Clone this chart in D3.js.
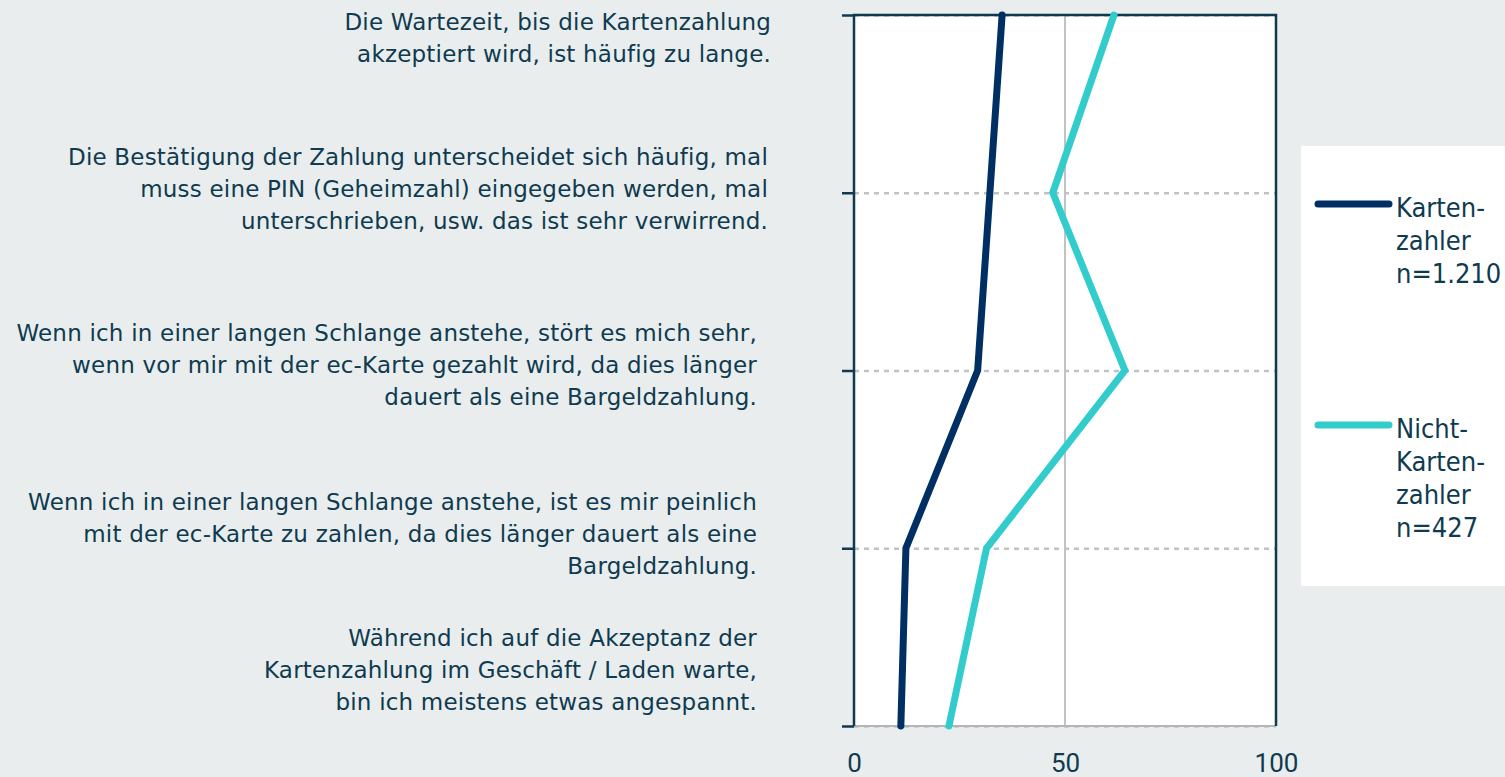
<!DOCTYPE html>
<html>
<head>
<meta charset="utf-8">
<script src="https://cdn.jsdelivr.net/npm/d3@7"></script>
<style>
  html, body { margin: 0; padding: 0; background: #e9eded; }
  svg { display: block; }
  .lbl { font-family: "DejaVu Sans", sans-serif; fill: #0f3b50; }
  .leg { font-family: "DejaVu Sans Condensed", "DejaVu Sans", sans-serif; font-stretch: condensed; fill: #0f3b50; }
</style>
</head>
<body>
<div id="container"></div>
<script>
// statements (one entry per row, already wrapped as in the picture)
var categories = [
  ["Die Wartezeit, bis die Kartenzahlung", "akzeptiert wird, ist häufig zu lange."],
  ["Die Bestätigung der Zahlung unterscheidet sich häufig, mal", "muss eine PIN (Geheimzahl) eingegeben werden, mal", "unterschrieben, usw. das ist sehr verwirrend."],
  ["Wenn ich in einer langen Schlange anstehe, stört es mich sehr,", "wenn vor mir mit der ec-Karte gezahlt wird, da dies länger", "dauert als eine Bargeldzahlung."],
  ["Wenn ich in einer langen Schlange anstehe, ist es mir peinlich", "mit der ec-Karte zu zahlen, da dies länger dauert als eine", "Bargeldzahlung."],
  ["Während ich auf die Akzeptanz der", "Kartenzahlung im Geschäft / Laden warte,", "bin ich meistens etwas angespannt."]
];
var kartenzahler = [35.1, 32.2, 29.3, 12.3, 11.1];
var nichtKartenzahler = [61.6, 47.1, 64.2, 31.4, 22.5];
var xTicks = [0, 50, 100];
var seriesNames = [["Karten-", "zahler", "n=1.210"], ["Nicht-", "Karten-", "zahler", "n=427"]];
var seriesColors = ["#003063", "#33cccc"];

var width = 1505, height = 777;
var plot = {left: 854, right: 1276, top: 15, bottom: 726};
var axisColor = "#0f3b50";

var svg = d3.select("div#container")
  .append("svg")
  .attr("width", width)
  .attr("height", height);

var x = d3.scaleLinear().domain([0, 100]).range([plot.left, plot.right]);
var y = d3.scalePoint().domain(d3.range(categories.length)).range([plot.top, plot.bottom]);

// plot background
svg.append("rect")
  .attr("x", plot.left).attr("y", plot.top)
  .attr("width", plot.right - plot.left).attr("height", plot.bottom - plot.top)
  .style("fill", "white");

// dashed row lines
svg.selectAll("line.row")
  .data(d3.range(categories.length))
  .enter().append("line")
  .attr("class", "row")
  .attr("x1", plot.left).attr("x2", plot.right)
  .attr("y1", function(d) { return y(d) + 0.5; })
  .attr("y2", function(d) { return y(d) + 0.5; })
  .style("stroke", "#c2c2c2").style("stroke-width", 2.5)
  .style("stroke-dasharray", "5,5");

// vertical grid at 50
svg.append("line")
  .attr("x1", x(50)).attr("x2", x(50))
  .attr("y1", plot.top).attr("y2", plot.bottom)
  .style("stroke", "#c2c2c2").style("stroke-width", 2);

// bottom baseline (grey)
svg.append("line")
  .attr("x1", plot.left).attr("x2", plot.right)
  .attr("y1", plot.bottom).attr("y2", plot.bottom)
  .style("stroke", "#b5b5b5").style("stroke-width", 2);

// frame: left axis, top, right
svg.append("path")
  .attr("d", "M" + plot.left + "," + plot.bottom + "V" + plot.top + "H" + plot.right + "V" + plot.bottom)
  .style("fill", "none").style("stroke", axisColor).style("stroke-width", 2.5);

// left axis ticks
var yAxis = d3.axisLeft(y).tickSize(12).tickFormat("");
var yg = svg.append("g").attr("transform", "translate(" + plot.left + ",0)").call(yAxis);
yg.select(".domain").remove();
yg.selectAll("line").style("stroke", axisColor).style("stroke-width", 2.5);

// x axis labels
var xAxis = d3.axisBottom(x).tickValues(xTicks).tickSize(0).tickPadding(28);
var xg = svg.append("g").attr("transform", "translate(0," + plot.bottom + ")").call(xAxis);
xg.select(".domain").remove();
xg.selectAll("text")
  .style("font-family", "Roboto, sans-serif")
  .style("font-size", "26px")
  .style("fill", axisColor);

// series lines
var line = d3.line()
  .x(function(d) { return x(d); })
  .y(function(d, i) { return y(i); });

[kartenzahler, nichtKartenzahler].forEach(function(series, k) {
  svg.append("path")
    .datum(series)
    .attr("d", line)
    .style("fill", "none")
    .style("stroke", seriesColors[k])
    .style("stroke-width", 7)
    .style("stroke-linecap", "round")
    .style("stroke-linejoin", "miter");
});

// category labels (right aligned, left of the chart)
var lineHeight = 31.7;
var labelFirstLine = [22, 157, 333, 502, 638];
var labelRight = [771, 768, 757, 757, 757];
categories.forEach(function(lines, i) {
  var t = svg.append("text")
    .attr("class", "lbl")
    .attr("text-anchor", "end")
    .style("font-size", "23px")
    .style("letter-spacing", "0.2px");
  lines.forEach(function(s, j) {
    t.append("tspan")
      .attr("x", labelRight[i])
      .attr("y", labelFirstLine[i] + j * lineHeight)
      .attr("dy", "0.36em")
      .text(s);
  });
});

// legend
var legend = svg.append("g");
legend.append("rect")
  .attr("x", 1301).attr("y", 146)
  .attr("width", 220).attr("height", 440)
  .style("fill", "white");

var legendLineY = [204, 425];
seriesNames.forEach(function(lines, k) {
  legend.append("line")
    .attr("x1", 1318).attr("x2", 1389)
    .attr("y1", legendLineY[k]).attr("y2", legendLineY[k])
    .style("stroke", seriesColors[k])
    .style("stroke-width", 7)
    .style("stroke-linecap", "round");
  var t = legend.append("text")
    .attr("class", "leg")
    .style("font-size", "27px");
  lines.forEach(function(s, j) {
    t.append("tspan")
      .attr("x", 1396)
      .attr("y", legendLineY[k] + 13 + j * 33)
      .text(s);
  });
});
</script>
</body>
</html>
